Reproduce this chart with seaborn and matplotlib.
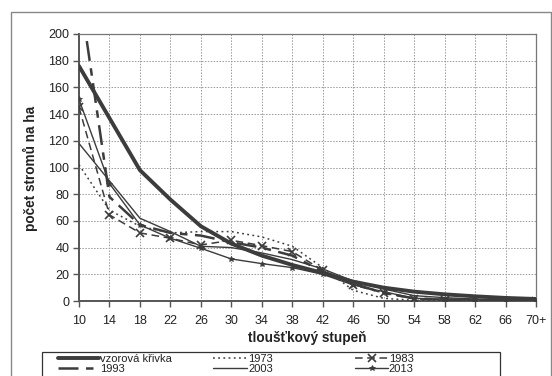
import matplotlib
matplotlib.use("Agg")
import matplotlib.pyplot as plt
from matplotlib.patches import Rectangle
import seaborn as sns
import pandas as pd
import numpy as np

categories = ["10", "14", "18", "22", "26", "30", "34", "38", "42", "46",
              "50", "54", "58", "62", "66", "70+"]
vzorova = [176, 137, 98, 76, 56, 43, 34, 27, 21, 14.5, 10, 7, 5, 3.5, 2.3, 1.5]
y1973 = [102, 68, 56, 51, 52, 52, 48, 41, 25, 8, 2, 0.5, 0.3, 0.3, 0.3, 0.3]
y1983 = [145, 64.5, 51, 47, 42, 45.5, 41.5, 37, 23, 12, 6, 1.5, 1, 0.5, 0.3, 0.3]
y1993 = [235, 78, 57, 51, 49, 44, 40, 34, 22, 13, 6, 2, 1, 0.5, 0.5, 0.3]
y2003 = [118, 90, 62, 52, 41, 40, 36, 31, 24, 15, 9, 4, 2.5, 1.5, 1, 0.5]
y2013 = [151, 88, 57, 47, 39.5, 31.5, 28, 25, 20, 12, 7, 2, 1.5, 1, 0.5, 0.3]
y_ticks = [0, 20, 40, 60, 80, 100, 120, 140, 160, 180, 200]

sns.set_theme(style="white")
plt.rcParams['font.family'] = ['Liberation Sans', 'DejaVu Sans']

fig = plt.figure(figsize=(5.52, 3.76), dpi=100)
ax = fig.add_axes([79/552, 1-301/376, (536-79)/552, (301-34)/376])

pos = np.arange(len(categories))
df = pd.DataFrame({"pos": pos, "vzor": vzorova, "y1973": y1973, "y1983": y1983,
                   "y1993": y1993, "y2003": y2003, "y2013": y2013})

c = "#3c3c3c"
sns.lineplot(data=df, x="pos", y="vzor", ax=ax, color=c, lw=2.8, label="vzorová křivka", zorder=5)
sns.lineplot(data=df, x="pos", y="y1973", ax=ax, color=c, lw=1.1, label="1973", zorder=4)
sns.lineplot(data=df, x="pos", y="y1983", ax=ax, color=c, lw=1.1, marker="x",
             markersize=6, markeredgewidth=1.2, markeredgecolor=c, label="1983", zorder=4)
sns.lineplot(data=df, x="pos", y="y1993", ax=ax, color=c, lw=1.8, label="1993", zorder=4)
sns.lineplot(data=df, x="pos", y="y2003", ax=ax, color=c, lw=1.0, label="2003", zorder=4)
sns.lineplot(data=df, x="pos", y="y2013", ax=ax, color=c, lw=1.0, marker="*",
             markersize=4, markeredgewidth=0.6, markeredgecolor=c, label="2013", zorder=4)

lines = ax.get_lines()
lines[1].set_dashes([1.2, 2.2])
lines[2].set_dashes([5, 3])
lines[3].set_dashes([8, 3, 3, 3])

ax.set_xlim(0, len(categories) - 1)
ax.set_ylim(0, 200)
ax.set_xticks(pos)
ax.set_xticklabels(categories)
ax.set_yticks(y_ticks)
ax.grid(True, color="#9a9a9a", linestyle=(0, (1.5, 1.5)), lw=0.7)
for s in ["left", "bottom"]:
    ax.spines[s].set_color("#555555")
    ax.spines[s].set_linewidth(1.4)
for s in ["right", "top"]:
    ax.spines[s].set_color("#777777")
    ax.spines[s].set_linewidth(0.9)
ax.tick_params(axis="both", which="both", direction="out", length=4, width=1,
               color="#555555", labelsize=9, labelcolor="#222222", bottom=True, left=True)
ax.tick_params(axis="x", pad=6)
ax.tick_params(axis="y", pad=3)

ax.set_xlabel("")
ax.set_ylabel("")
fig.text(307/552, 1-338/376, "tloušťkový stupeň", ha="center", va="center",
         fontsize=9.8, fontweight="bold", color="#222222")
fig.text(30/552, 1-168/376, "počet stromů na ha", ha="center", va="center",
         rotation=90, fontsize=9.8, fontweight="bold", color="#222222")

handles, labels = ax.get_legend_handles_labels()
ax.get_legend().remove()

# legend: three single-column groups inside one frame
groups = [([0, 3], 58, 3.7), ([1, 4], 213, 3.1), ([2, 5], 355, 3.0)]
for idx, x0, hl in groups:
    lg = fig.legend([handles[i] for i in idx], [labels[i] for i in idx],
                    loc="upper left", bbox_to_anchor=(x0/552, 1-353.5/376),
                    ncol=1, fontsize=8, frameon=False, labelspacing=0.0,
                    handlelength=hl, handletextpad=0.05, borderpad=0,
                    borderaxespad=0)
    for t in lg.get_texts():
        t.set_color("#222222")

fig.patches.append(Rectangle((42/552, -0.05), (500-42)/552, 0.05 + 1 - 352/376,
                             transform=fig.transFigure, fill=False,
                             edgecolor="#333333", lw=0.9))
fig.patches.append(Rectangle((11/552, -0.05), (551-11)/552, 1.05 - 12/376,
                             transform=fig.transFigure, fill=False,
                             edgecolor="#888888", lw=1.0))

fig.savefig("out.png", dpi=100)
